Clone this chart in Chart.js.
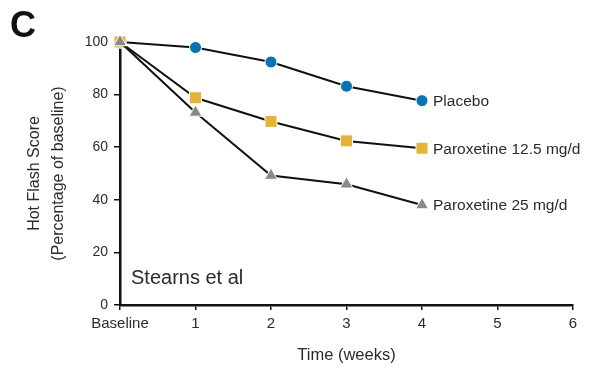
<!DOCTYPE html>
<html>
<head>
<meta charset="utf-8">
<script src="https://cdn.jsdelivr.net/npm/chart.js@4"></script>
<style>
  html, body { margin: 0; padding: 0; background: #fff; }
  #wrap { width: 593px; height: 376px; }
</style>
</head>
<body>
<div id="wrap"><canvas id="hot_flash"></canvas></div>
<script>
// data (minggu ke-0 = Baseline)
const weeks = [0, 1, 2, 3, 4];
const placebo = [100, 97.9, 92.4, 83.2, 77.7];
const parox_12 = [100, 78.8, 69.8, 62.4, 59.6];
const parox_25 = [100, 73.2, 49.2, 45.9, 38.0];
const series_names = ['Placebo', 'Paroxetine 12.5 mg/d', 'Paroxetine 25 mg/d'];
const x_ticks = ['Baseline', '1', '2', '3', '4', '5', '6'];
const y_ticks = [0, 20, 40, 60, 80, 100];

const font_family = "Arial, 'Liberation Sans', Helvetica, sans-serif";
const ink = '#2b2b2b';

function to_points(vals) {
  return vals.map((v, i) => ({ x: weeks[i], y: v }));
}

// tulisan tambahan: huruf C, "Stearns et al", label seri di ujung garis
const extra_text = {
  id: 'extra_text',
  afterDatasetsDraw(chart) {
    const ctx = chart.ctx;
    ctx.save();
    ctx.fillStyle = '#111';
    ctx.font = 'bold 36px ' + font_family;
    ctx.textBaseline = 'middle';
    ctx.textAlign = 'left';
    ctx.fillText('C', 10, 27);

    ctx.fillStyle = ink;
    ctx.font = '20px ' + font_family;
    ctx.fillText('Stearns et al', 131, 278);

    ctx.font = '15.5px ' + font_family;
    chart.data.datasets.forEach((ds, i) => {
      const meta = chart.getDatasetMeta(i);
      const last = meta.data[meta.data.length - 1];
      ctx.fillText(series_names[i], last.x + 11, last.y + 1);
    });
    ctx.restore();
  }
};

const hot_flash = document.getElementById('hot_flash');

new Chart(hot_flash, {
  type: 'line',
  data: {
    datasets: [
      {
        label: series_names[0],
        data: to_points(placebo),
        borderColor: '#111',
        borderWidth: 2,
        pointStyle: 'circle',
        pointRadius: 6,
        pointBackgroundColor: '#0b72b3',
        pointBorderColor: '#fff',
        pointBorderWidth: 1,
        order: 3
      },
      {
        label: series_names[1],
        data: to_points(parox_12),
        borderColor: '#111',
        borderWidth: 2,
        pointStyle: 'rect',
        pointRadius: 8.5,
        pointBackgroundColor: '#e4b43a',
        pointBorderColor: '#fff',
        pointBorderWidth: 1,
        order: 2
      },
      {
        label: series_names[2],
        data: to_points(parox_25),
        borderColor: '#111',
        borderWidth: 2,
        pointStyle: 'triangle',
        pointRadius: 7.5,
        pointBackgroundColor: '#8a8a8a',
        pointBorderColor: '#fff',
        pointBorderWidth: 1,
        order: 1
      }
    ]
  },
  options: {
    responsive: true,
    maintainAspectRatio: false,
    animation: false,
    clip: false,
    layout: { padding: { top: 42, right: 20, left: 0, bottom: 0 } },
    plugins: {
      legend: { display: false },
      tooltip: { enabled: false }
    },
    scales: {
      x: {
        type: 'linear',
        min: 0,
        max: 6,
        afterFit: s => { s.height = 71; },
        afterBuildTicks: s => { s.ticks = x_ticks.map((t, i) => ({ value: i })); },
        ticks: {
          color: ink,
          font: { family: font_family, size: 15 },
          padding: 5,
          maxRotation: 0,
          callback: (v) => x_ticks[v]
        },
        grid: { drawOnChartArea: false, drawTicks: true, tickLength: 5, color: '#111', lineWidth: 1.5 },
        border: { display: true, color: '#111', width: 2.5 },
        title: {
          display: true,
          text: 'Time (weeks)',
          color: ink,
          font: { family: font_family, size: 16.5 },
          padding: { top: 0, bottom: 11 }
        }
      },
      y: {
        min: 0,
        max: 100,
        afterFit: s => { s.width = 120; },
        afterBuildTicks: s => { s.ticks = y_ticks.map(v => ({ value: v })); },
        ticks: {
          color: ink,
          font: { family: font_family, size: 14 },
          padding: 6
        },
        grid: { drawOnChartArea: false, drawTicks: true, tickLength: 6, color: '#111', lineWidth: 1.5 },
        border: { display: true, color: '#111', width: 2.5 },
        title: {
          display: true,
          text: ['Hot Flash Score', '(Percentage of baseline)'],
          color: ink,
          font: { family: font_family, size: 16, lineHeight: 1.5 },
          padding: { top: 23, bottom: 0 }
        }
      }
    }
  },
  plugins: [extra_text]
});
</script>
</body>
</html>
